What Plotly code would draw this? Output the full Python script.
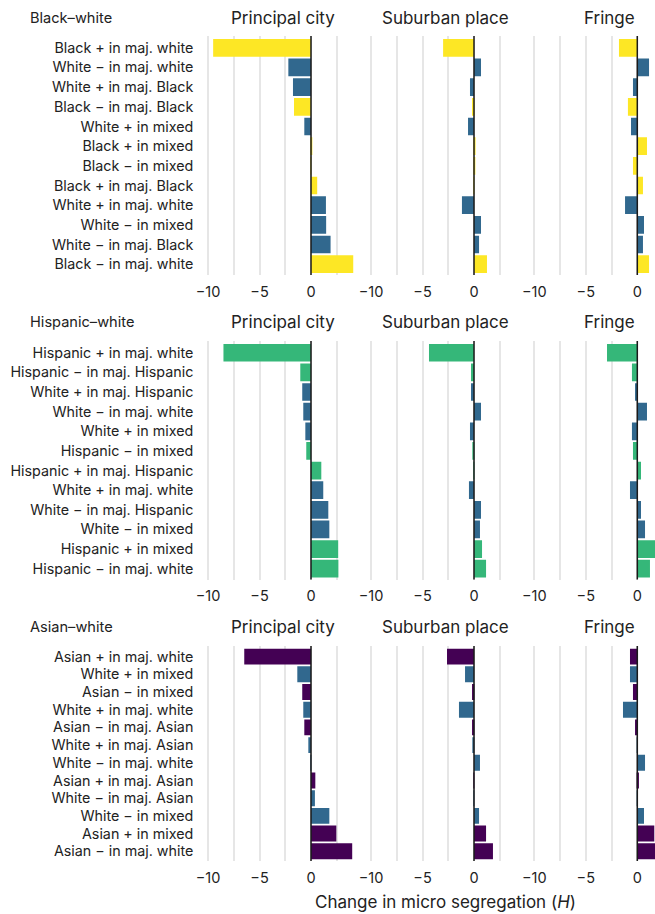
import plotly.graph_objects as go

# ---- data: change in micro segregation (H) by group, place type ----
place_types = ["Principal city", "Suburban place", "Fringe"]
panel_titles = ["Black–white", "Hispanic–white", "Asian–white"]

bw_labels = ["Black + in maj. white", "White − in maj. white", "White + in maj. Black",
             "Black − in maj. Black", "White + in mixed", "Black + in mixed",
             "Black − in mixed", "Black + in maj. Black", "White + in maj. white",
             "White − in mixed", "White − in maj. Black", "Black − in maj. white"]
bw_principal = [-9.5, -2.2, -1.75, -1.65, -0.65, 0.05, -0.03, 0.6, 1.45, 1.47, 1.9, 4.1]
bw_suburban = [-3.0, 0.68, -0.39, -0.19, -0.58, 0.15, 0.12, 0.03, -1.17, 0.68, 0.49, 1.26]
bw_fringe = [-1.78, 1.14, -0.42, -0.91, -0.61, 0.94, -0.42, 0.55, -1.19, 0.65, 0.55, 1.14]

hw_labels = ["Hispanic + in maj. white", "Hispanic − in maj. Hispanic", "White + in maj. Hispanic",
             "White − in maj. white", "White + in mixed", "Hispanic − in mixed",
             "Hispanic + in maj. Hispanic", "White + in maj. white", "White − in maj. Hispanic",
             "White − in mixed", "Hispanic + in mixed", "Hispanic − in maj. white"]
hw_principal = [-8.5, -1.04, -0.85, -0.75, -0.55, -0.46, 1.0, 1.19, 1.68, 1.78, 2.64, 2.66]
hw_suburban = [-4.37, -0.29, -0.29, 0.68, -0.39, -0.1, 0.03, -0.49, 0.68, 0.58, 0.78, 1.17]
hw_fringe = [-2.94, -0.52, -0.22, 0.94, -0.52, -0.42, 0.36, -0.71, 0.36, 0.75, 1.8, 1.23]

aw_labels = ["Asian + in maj. white", "White + in mixed", "Asian − in mixed",
             "White + in maj. white", "Asian − in maj. Asian", "White + in maj. Asian",
             "White − in maj. white", "Asian + in maj. Asian", "White − in maj. Asian",
             "White − in mixed", "Asian + in mixed", "Asian − in maj. white"]
aw_principal = [-6.48, -1.33, -0.85, -0.75, -0.65, -0.26, -0.03, 0.42, 0.38, 1.78, 2.46, 4.0]
aw_suburban = [-2.62, -0.87, -0.19, -1.46, -0.19, -0.1, 0.58, 0.03, 0.02, 0.49, 1.17, 1.84]
aw_fringe = [-0.71, -0.71, -0.42, -1.39, -0.22, -0.02, 0.75, 0.16, 0.02, 0.65, 1.65, 1.9]

x_tickvals = [-10, -7.5, -5, -2.5, 0, 2.5, 5]
x_ticktext = ["−10", "", "−5", "", "0", "", ""]

group_colors = {"Black": "#fde725", "Hispanic": "#35b779", "Asian": "#440154", "White": "#31688e"}

rows = [
    (bw_labels, [bw_principal, bw_suburban, bw_fringe]),
    (hw_labels, [hw_principal, hw_suburban, hw_fringe]),
    (aw_labels, [aw_principal, aw_suburban, aw_fringe]),
]

# ---- layout geometry (pixels) ----
W, H = 655, 914
PX_PER_UNIT = 10.3
col_zero_px = [311.0, 474.0, 637.3]
col_title_px = [283.0, 445.5, 609.0]
col_left_units = -10.55
col_right_units = [4.5, 4.5, (W - 637.3) / PX_PER_UNIT]
row_px = [(36, 275), (341, 579.5), (646, 861)]
row_title_px = [18, 322, 627]

FONT = "Inter"
TXT = "#222222"

fig = go.Figure()
layout = dict(
    width=W, height=H, margin=dict(l=0, r=0, t=0, b=0, autoexpand=False),
    paper_bgcolor="white", plot_bgcolor="white", showlegend=False,
    font=dict(family=FONT, size=13, color=TXT),
    bargap=0.1,
)
shapes, annotations = [], []

for r, (labels, series) in enumerate(rows):
    y0, y1 = row_px[r]
    for c, values in enumerate(series):
        k = r * 3 + c + 1
        xa = "x" if k == 1 else f"x{k}"
        ya = "y" if k == 1 else f"y{k}"
        colors = [group_colors[lab.split(" ")[0]] for lab in labels]
        fig.add_trace(go.Bar(
            x=values, y=labels, orientation="h", marker=dict(color=colors, line=dict(width=0)),
            xaxis=xa, yaxis=ya, hoverinfo="x+y",
        ))
        x_lo = col_zero_px[c] + col_left_units * PX_PER_UNIT
        x_hi = col_zero_px[c] + col_right_units[c] * PX_PER_UNIT
        layout["xaxis" if k == 1 else f"xaxis{k}"] = dict(
            domain=[x_lo / W, min(x_hi / W, 1.0)], anchor=ya, automargin=False,
            range=[col_left_units, col_right_units[c]],
            tickvals=x_tickvals, ticktext=x_ticktext,
            showgrid=True, gridcolor="#e6e6e6", gridwidth=1.5,
            zeroline=False, showline=False, ticks="",
            tickfont=dict(family=FONT, size=14.5, color=TXT),
            ticklabelstandoff=6,
        )
        layout["yaxis" if k == 1 else f"yaxis{k}"] = dict(
            domain=[1 - y1 / H, 1 - y0 / H], anchor=xa, automargin=False,
            type="category", categoryorder="array", categoryarray=labels,
            range=[11.55, -0.6],
            showgrid=False, zeroline=False, showline=False, ticks="",
            showticklabels=(c == 0),
            tickfont=dict(family=FONT, size=14.3, color=TXT),
            ticklabelstandoff=8,
        )
        # zero reference line drawn over the bars
        shapes.append(dict(type="line", xref=xa, yref=f"{ya} domain",
                           x0=0, x1=0, y0=0, y1=1, layer="above",
                           line=dict(color="#1a1a1a", width=1.5)))
        # place-type header above each panel
        annotations.append(dict(
            text=place_types[c], xref="paper", yref="paper",
            x=col_title_px[c] / W, y=1 - row_title_px[r] / H,
            xanchor="center", yanchor="middle", showarrow=False,
            font=dict(family=FONT, size=17, color=TXT),
        ))
    annotations.append(dict(
        text=panel_titles[r], xref="paper", yref="paper",
        x=28 / W, y=1 - row_title_px[r] / H, xanchor="left", yanchor="middle",
        showarrow=False, font=dict(family=FONT, size=14.6, color=TXT),
    ))

annotations.append(dict(
    text="Change in micro segregation (<i>H</i>)", xref="paper", yref="paper",
    x=445.5 / W, y=1 - 902 / H, xanchor="center", yanchor="middle", showarrow=False,
    font=dict(family=FONT, size=17, color=TXT),
))

layout["shapes"] = shapes
layout["annotations"] = annotations
fig.update_layout(**layout)
fig.write_html("out.html")
